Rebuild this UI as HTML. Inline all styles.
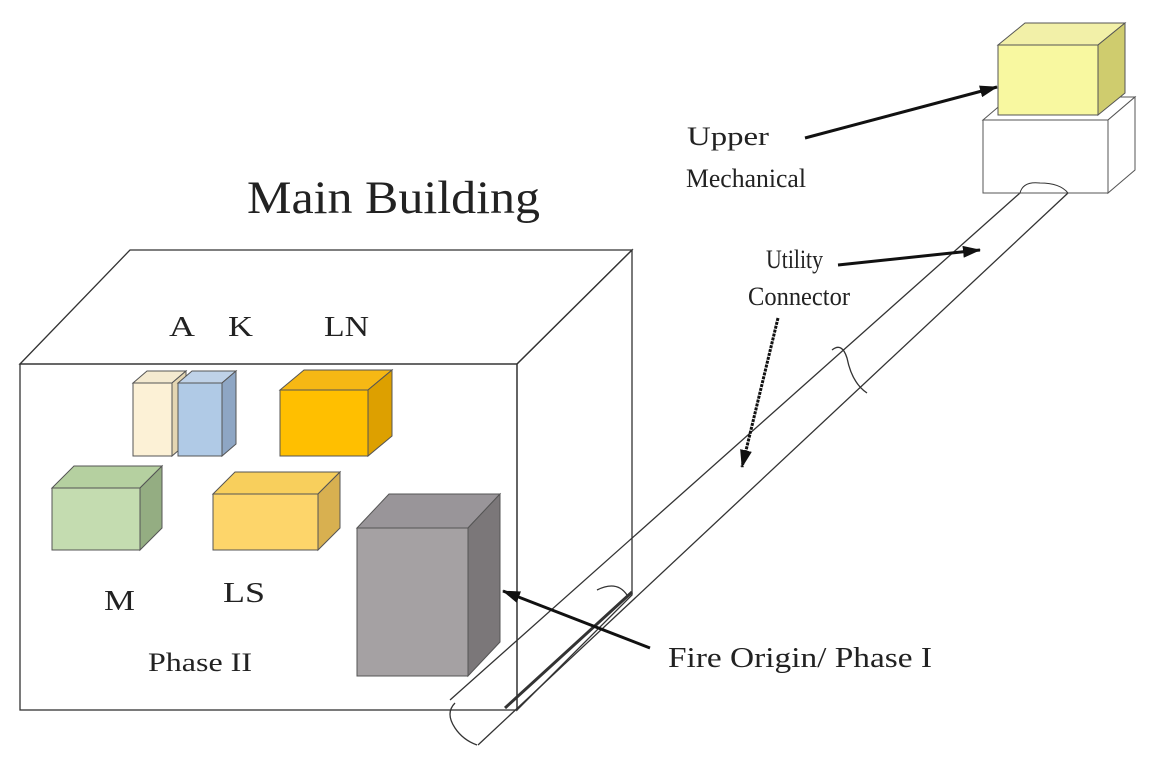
<!DOCTYPE html>
<html><head><style>body{margin:0;background:#fff}svg{display:block}text{font-family:"Liberation Serif",serif;fill:#222}</style></head>
<body>
<svg width="1160" height="758" viewBox="0 0 1160 758" xmlns="http://www.w3.org/2000/svg">
<defs><marker id="ah" markerWidth="18" markerHeight="12" refX="17" refY="6" orient="auto" markerUnits="userSpaceOnUse"><path d="M0,0 L18,6 L0,12 Z" fill="#111"/></marker></defs>
<g stroke="#333" stroke-width="1.3" fill="none">
<polygon points="20,364 130,250 632,250 517,364"/>
<polygon points="517,364 632,250 632,595 517,710"/>
<rect x="20" y="364" width="497" height="346"/>
<line x1="450" y1="700" x2="1020" y2="193"/>
<line x1="478" y1="745" x2="1068" y2="193"/>
<line x1="505" y1="708" x2="632" y2="592" stroke-width="3"/>
<path d="M455,703 q-10,10 0,25 q8,12 22,17"/>
<path d="M597,590 q20,-10 30,5"/>
<path d="M832,350 q10,-8 15,8 q5,25 20,35"/>
</g>
<g stroke="#555" stroke-width="1">
<polygon points="133,383 147,371 186,371 172,383" fill="#f4ead0"/><polygon points="172,383 186,371 186,444 172,456" fill="#e4d6b2"/><rect x="133" y="383" width="39" height="73" fill="#fcf1d6"/>
<polygon points="178,383 192,371 236,371 222,383" fill="#bfd2e8"/><polygon points="222,383 236,371 236,444 222,456" fill="#8ea6c4"/><rect x="178" y="383" width="44" height="73" fill="#b0cae6"/>
<polygon points="280,390 304,370 392,370 368,390" fill="#f6b814"/><polygon points="368,390 392,370 392,436 368,456" fill="#dda000"/><rect x="280" y="390" width="88" height="66" fill="#ffbf00"/>
<polygon points="52,488 74,466 162,466 140,488" fill="#b5d0a0"/><polygon points="140,488 162,466 162,528 140,550" fill="#94ad82"/><rect x="52" y="488" width="88" height="62" fill="#c4dcb0"/>
<polygon points="213,494 235,472 340,472 318,494" fill="#f8cf5c"/><polygon points="318,494 340,472 340,528 318,550" fill="#d8b050"/><rect x="213" y="494" width="105" height="56" fill="#fdd56a"/>
<polygon points="357,528 389,494 500,494 468,528" fill="#999599"/><polygon points="468,528 500,494 500,642 468,676" fill="#7b7779"/><rect x="357" y="528" width="111" height="148" fill="#a5a1a3"/>
<polygon points="983,120 1010,97 1135,97 1108,120" fill="#fff"/><polygon points="1108,120 1135,97 1135,170 1108,193" fill="#fff"/><rect x="983" y="120" width="125" height="73" fill="#fff"/>
<polygon points="998,45 1025,23 1125,23 1098,45" fill="#f2f0a8"/><polygon points="1098,45 1125,23 1125,93 1098,115" fill="#cfcc6e"/><rect x="998" y="45" width="100" height="70" fill="#f8f8a0"/>
</g>
<path d="M1020,193 q3,-12 20,-10 q20,0 28,10" stroke="#333" stroke-width="1" fill="none"/>
<g stroke="#111" stroke-width="3" marker-end="url(#ah)">
<line x1="805" y1="138" x2="997" y2="87"/>
<line x1="838" y1="265" x2="980" y2="250"/>
<line x1="778" y1="318" x2="742" y2="467" stroke-dasharray="3,1"/>
<line x1="650" y1="648" x2="503" y2="591"/>
</g>
<text x="247" y="213" font-size="47" textLength="293" lengthAdjust="spacingAndGlyphs">Main Building</text>
<text x="169" y="336" font-size="28" textLength="26" lengthAdjust="spacingAndGlyphs">A</text>
<text x="228" y="336" font-size="28" textLength="25" lengthAdjust="spacingAndGlyphs">K</text>
<text x="324" y="336" font-size="28" textLength="45" lengthAdjust="spacingAndGlyphs">LN</text>
<text x="104" y="610" font-size="28" textLength="31" lengthAdjust="spacingAndGlyphs">M</text>
<text x="223" y="602" font-size="28" textLength="42" lengthAdjust="spacingAndGlyphs">LS</text>
<text x="148" y="671" font-size="26" textLength="104" lengthAdjust="spacingAndGlyphs">Phase II</text>
<text x="687" y="145" font-size="26" textLength="82" lengthAdjust="spacingAndGlyphs">Upper</text>
<text x="686" y="187" font-size="26" textLength="120" lengthAdjust="spacingAndGlyphs">Mechanical</text>
<text x="766" y="268" font-size="26" textLength="57" lengthAdjust="spacingAndGlyphs">Utility</text>
<text x="748" y="305" font-size="26" textLength="102" lengthAdjust="spacingAndGlyphs">Connector</text>
<text x="668" y="667" font-size="28" textLength="264" lengthAdjust="spacingAndGlyphs">Fire Origin/ Phase I</text>
</svg>
</body></html>
